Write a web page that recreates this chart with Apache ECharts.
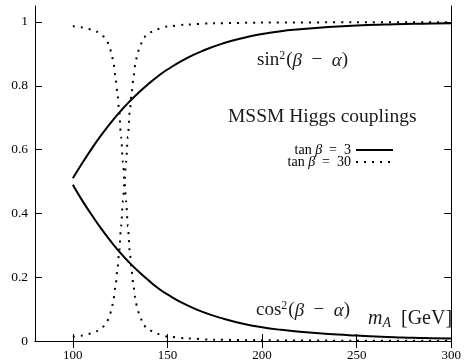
<!DOCTYPE html>
<html>
<head>
<meta charset="utf-8">
<script src="https://cdn.jsdelivr.net/npm/echarts@6/dist/echarts.min.js"></script>
<style>
  html, body { margin: 0; padding: 0; background: #fff; }
  #chart { width: 464px; height: 363px; }
</style>
</head>
<body>
<div id="chart"></div>
<script>
// tick labels
const xTicks = [100, 150, 200, 250, 300];
const yTicks = [0, 0.2, 0.4, 0.6, 0.8, 1];

// tan(beta) = 3 (solid)
const mA3 = [100, 105, 110, 115, 120, 125, 130, 135, 140, 145, 150, 160, 170, 180, 190, 200, 210, 220, 230, 240, 250, 260, 270, 280, 290, 300];
const sin2Tb3 = [0.51, 0.558, 0.603, 0.645, 0.684, 0.719, 0.751, 0.78, 0.806, 0.83, 0.851, 0.886, 0.913, 0.934, 0.95, 0.962, 0.971, 0.977, 0.982, 0.986, 0.989, 0.991, 0.993, 0.994, 0.995, 0.996];
const cos2Tb3 = [0.49, 0.44, 0.395, 0.352, 0.313, 0.277, 0.245, 0.216, 0.19, 0.166, 0.146, 0.113, 0.088, 0.069, 0.054, 0.043, 0.035, 0.029, 0.024, 0.020, 0.017, 0.014, 0.012, 0.010, 0.009, 0.008];

// tan(beta) = 30 (dotted)
const mA30 = [100, 105, 110, 113, 116, 118, 119.5, 120.5, 121.5, 122.5, 123.5, 124.5, 125.5, 126.5, 127.3, 128.1, 129.1, 130.1, 131.1, 132.1, 133.1, 134.1, 135.5, 137.5, 140, 145, 150, 160, 175, 200, 250, 300];
const sin2Tb30 = [0.013, 0.017, 0.024, 0.031, 0.045, 0.06, 0.08, 0.10, 0.13, 0.17, 0.22, 0.28, 0.36, 0.44, 0.50, 0.56, 0.64, 0.72, 0.78, 0.83, 0.87, 0.90, 0.925, 0.952, 0.966, 0.978, 0.986, 0.992, 0.996, 0.998, 0.999, 0.999];
const cos2Tb30 = [0.987, 0.983, 0.976, 0.969, 0.955, 0.94, 0.92, 0.90, 0.87, 0.83, 0.78, 0.72, 0.64, 0.56, 0.50, 0.44, 0.36, 0.28, 0.22, 0.17, 0.13, 0.10, 0.075, 0.048, 0.034, 0.022, 0.014, 0.008, 0.004, 0.002, 0.001, 0.001];

const font = "'Liberation Serif', serif";
const ink = '#1a1a1a';
const pairs = (xs, ys) => xs.map((x, i) => [x, ys[i]]);

const solid = { color: '#000', width: 2, type: 'solid' };
const dotted = { color: '#000', width: 2, type: [2, 6], cap: 'butt' };

function curve(name, data, lineStyle, monotone) {
    return {
        name: name,
        type: 'line',
        data: data,
        symbol: 'none',
        smooth: monotone ? 0.3 : 0.5,
        smoothMonotone: monotone ? 'x' : null,
        lineStyle: lineStyle,
        itemStyle: { color: '#000' },
        animation: false
    };
}

// math-ish label: upright + italic pieces
const mathRich = (size) => ({
    n: { fontFamily: font, fontSize: size, fill: ink },
    i: { fontFamily: font, fontSize: size, fontStyle: 'italic', fill: ink },
    sup: { fontFamily: font, fontSize: Math.round(size * 0.65), fill: ink, padding: [0, 1, 9, 0] },
    sub: { fontFamily: font, fontSize: Math.round(size * 0.7), fontStyle: 'italic', fill: ink, padding: [8, 0, 0, 0] }
});

const chart = echarts.init(document.getElementById('chart'));

const axisLine = { show: true, lineStyle: { color: '#000', width: 1 } };
const tick = (vals) => ({ show: true, inside: true, length: 7, customValues: vals, lineStyle: { color: '#000' } });

chart.setOption({
    animation: false,
    grid: { left: 35, right: 5, top: 6, bottom: 22 },
    xAxis: [
        {
            type: 'value', min: 80, max: 300, position: 'bottom',
            axisLine: axisLine, axisTick: tick(xTicks), splitLine: { show: false },
            axisLabel: { customValues: xTicks, margin: 8, color: '#000', fontFamily: font, fontSize: 13 }
        },
        {
            type: 'value', min: 80, max: 300, position: 'top',
            axisLine: axisLine, axisTick: tick(xTicks), splitLine: { show: false },
            axisLabel: { show: false }
        }
    ],
    yAxis: [
        {
            type: 'value', min: 0, max: 1.05, position: 'left',
            axisLine: axisLine, axisTick: tick(yTicks), splitLine: { show: false },
            axisLabel: { customValues: yTicks, margin: 7, color: '#000', fontFamily: font, fontSize: 13.5 }
        },
        {
            type: 'value', min: 0, max: 1.05, position: 'right',
            axisLine: axisLine, axisTick: tick(yTicks), splitLine: { show: false },
            axisLabel: { show: false }
        }
    ],
    legend: {
        orient: 'vertical',
        align: 'right',
        right: 70,
        top: 143,
        padding: 0,
        itemWidth: 37,
        itemHeight: 8,
        itemGap: -2,
        data: ['tan β = 3', 'tan β = 30'],
        itemStyle: { opacity: 0 },
        formatter: (name) => '{n|tan }{i|β}{n|\u2002=\u2002' + name.split('= ')[1] + '}',
        textStyle: {
            color: '#000', fontFamily: font, fontSize: 14, lineHeight: 10,
            rich: {
                n: { fontFamily: font, fontSize: 14, lineHeight: 10, fill: ink },
                i: { fontFamily: font, fontSize: 14, lineHeight: 10, fontStyle: 'italic', fill: ink }
            }
        }
    },
    series: [
        curve('tan β = 3', pairs(mA3, sin2Tb3), solid, false),
        curve('tan β = 3', pairs(mA3, cos2Tb3), solid, false),
        curve('tan β = 30', pairs(mA30, sin2Tb30), dotted, true),
        curve('tan β = 30', pairs(mA30, cos2Tb30), dotted, true)
    ],
    graphic: [
        {
            type: 'text', left: 257, top: 50,
            style: { text: '{n|sin}{sup|2}{n|(}{i|β}{n|\u2002−\u2002}{i|α}{n|)}', rich: mathRich(19) }
        },
        {
            type: 'text', left: 256, top: 300,
            style: { text: '{n|cos}{sup|2}{n|(}{i|β}{n|\u2002−\u2002}{i|α}{n|)}', rich: mathRich(19) }
        },
        {
            type: 'text', left: 228, top: 107,
            style: { text: 'MSSM Higgs couplings', font: "19.5px 'Liberation Serif', serif", fill: ink }
        },
        {
            type: 'text', left: 368, top: 309,
            style: { text: '{i|m}{sub|A}{n|\u2002[GeV]}', rich: mathRich(20) }
        }
    ]
});
</script>
</body>
</html>
